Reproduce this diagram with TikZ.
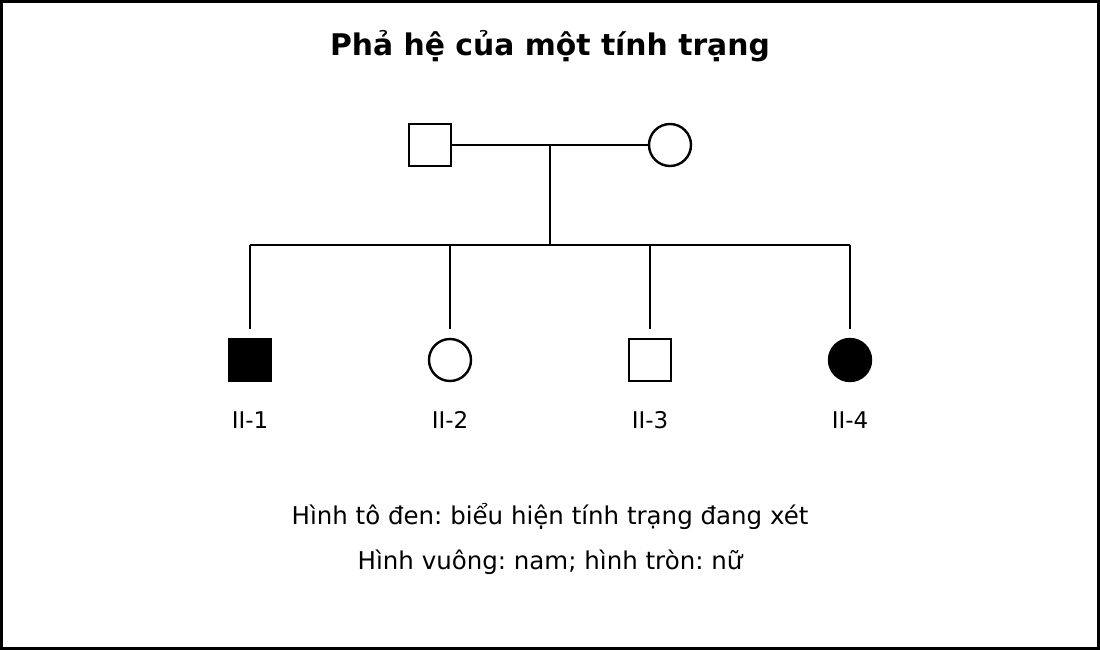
\documentclass[tikz,border=0pt]{standalone}
\usepackage{fontspec}
\setmainfont{DejaVu Sans}
\frenchspacing
\begin{document}
\begin{tikzpicture}[x=1pt,y=-1pt,
  male/.style={draw,line width=2.4pt,minimum size=42pt,inner sep=0pt,fill=white},
  female/.style={draw,circle,line width=2.4pt,minimum size=42pt,inner sep=0pt,fill=white},
  aff/.style={fill=black},
  ln/.style={line width=2.4pt},
  lbl/.style={font=\fontsize{23}{27}\selectfont},
  leg/.style={font=\fontsize{24.5}{29}\selectfont}]
\useasboundingbox (0,0) rectangle (1100,650);
\draw[line width=3pt] (1.5,1.5) rectangle (1098.5,648.5);
\node[font=\bfseries\fontsize{29.8}{34}\selectfont] (title) at (550,46) {Phả hệ của một tính trạng};
\node[male] (f) at (430,145) {};
\node[female] (m) at (670,145) {};
\coordinate (mid) at (550,145);
\coordinate (sib) at (550,245);
\coordinate (s1) at (250,245);
\coordinate (s2) at (450,245);
\coordinate (s3) at (650,245);
\coordinate (s4) at (850,245);
\node[male,aff] (c1) at (250,360) {};
\node[female] (c2) at (450,360) {};
\node[male] (c3) at (650,360) {};
\node[female,aff] (c4) at (850,360) {};
\draw[ln] (f) -- (m);
\draw[ln] (mid) -- (sib);
\draw[ln] (s1) -- (s4);
\foreach \i in {1,...,4} \draw[ln,shorten >=9pt] (s\i) -- (c\i.north);
\node[lbl] (l1) at (250,420) {II-1};
\node[lbl] (l2) at (450,420) {II-2};
\node[lbl] (l3) at (650,420) {II-3};
\node[lbl] (l4) at (850,420) {II-4};
\node[leg] (g1) at (550,516) {Hình tô đen: biểu hiện tính trạng đang xét};
\node[leg] (g2) at (550,562) {Hình vuông: nam; hình tròn: nữ};
\end{tikzpicture}
\end{document}
